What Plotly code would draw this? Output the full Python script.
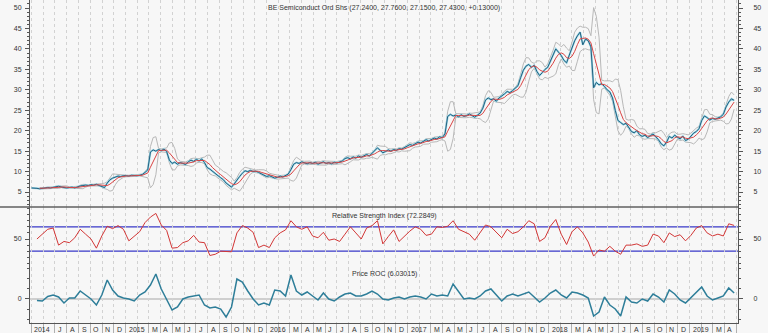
import pandas as pd
import plotly.graph_objects as go

# Weekly closing prices, first week of May 2014 to late April 2019
close = [
    6.0, 6.0, 5.9, 5.8, 5.9, 6.0, 6.1, 6.0, 6.2, 6.3,
    6.4, 6.2, 6.1, 6.0, 6.1, 6.2, 6.0, 6.3, 6.5, 6.6,
    6.7, 6.6, 6.8, 6.7, 6.9, 6.6, 6.4, 6.1, 7.2, 8.0,
    8.4, 8.7, 8.9, 8.8, 9.0, 9.0, 8.9, 9.1, 9.0, 9.0,
    9.1, 9.3, 9.8, 10.4, 14.8, 15.3, 15.0, 15.4, 15.1, 15.5,
    14.9, 12.8, 12.0, 12.3, 11.8, 12.2, 12.0, 11.7, 12.4, 12.8,
    12.5, 13.0, 12.6, 13.1, 12.2, 11.0, 10.6, 10.0, 9.5, 9.0,
    8.5, 8.0, 7.2, 6.8, 6.2, 7.0, 8.0, 8.8, 9.6, 10.2,
    10.0, 10.3, 10.0, 10.1, 9.8, 9.4, 9.2, 8.8, 9.0, 8.6,
    8.4, 8.6, 8.9, 8.7, 9.0, 9.4, 10.5, 11.8, 12.2, 12.0,
    12.4, 12.1, 11.9, 12.2, 12.0, 12.3, 11.8, 12.1, 12.4, 12.0,
    12.2, 11.9, 12.3, 12.1, 12.4, 12.6, 13.2, 13.4, 13.1, 13.6,
    13.3, 13.8, 13.5, 13.9, 14.2, 13.8, 14.4, 15.0, 15.8, 15.2,
    14.6, 14.9, 15.3, 15.0, 15.4, 15.2, 15.6, 15.5, 15.9, 16.3,
    16.6, 16.4, 16.9, 17.2, 17.0, 17.4, 17.8, 17.5, 17.9, 18.2,
    18.0, 18.5, 18.3, 19.2, 23.5, 24.0, 23.6, 23.8, 23.4, 23.9,
    23.5, 23.7, 24.1, 23.6, 23.3, 23.8, 24.3, 25.5, 27.5, 28.0,
    27.6, 27.8, 27.2, 28.0, 28.4, 29.0, 29.6, 29.3, 29.8, 30.3,
    31.0, 33.0, 34.8, 35.8, 36.2, 35.5, 36.0, 34.5, 33.5, 34.2,
    35.0, 35.5, 37.0, 38.5, 40.0, 39.2, 38.4, 37.2, 36.6, 38.5,
    40.5, 42.0, 43.2, 44.1, 41.0, 42.4, 42.0, 40.5, 30.5, 31.8,
    31.2, 31.5, 30.8, 30.0, 29.5, 28.0, 25.0, 22.5, 22.0, 21.5,
    21.8, 20.8, 19.8, 19.5, 20.0, 19.0, 18.6, 18.9, 18.3, 18.8,
    19.2, 18.5, 17.8, 16.8, 16.3, 17.2, 18.6, 18.2, 18.9, 18.4,
    18.0, 18.7, 17.6, 17.9, 18.8, 19.4, 19.8, 20.5, 22.5, 23.6,
    23.2, 22.6, 23.0, 22.8, 23.1, 23.4, 24.0, 25.8, 27.0, 27.8,
    27.43,
]

# Last bar: open, high, low, close and change on the day
last_bar = [27.24, 27.76, 27.15, 27.43]
last_change = 0.13

# Fortnightly oscillator readings
rsi = [
    None, 50, 58, 66, 68, 40, 46, 44, 52, 66,
    58, 50, 35, 55, 71, 67, 72, 66, 47, 55,
    62, 77, 86, 92, 73, 64, 35, 36, 44, 47,
    56, 45, 44, 23, 25, 30, 30, 29, 60, 72,
    68, 61, 36, 40, 36, 52, 60, 65, 80, 70,
    66, 70, 55, 52, 61, 48, 50, 46, 58, 70,
    60, 50, 68, 72, 80, 42, 54, 65, 46, 55,
    63, 70, 66, 56, 58, 70, 69, 71, 80, 66,
    62, 58, 48, 60, 73, 70, 61, 52, 66, 59,
    62, 70, 80, 75, 46, 52, 71, 82, 58, 41,
    62, 70, 60, 45, 22, 32, 30, 38, 30, 25,
    40, 40, 42, 38, 40, 58, 55, 44, 60, 54,
    57, 47, 56, 68, 72, 60, 55, 58, 55, 75,
    72.2849,
]
roc = [
    None, -1.5, -2, 2.5, 4, 2, -4, 1, 1, 8,
    4, 0, -6, 4, 19, 9, 3, 1, 0, -2,
    4, 7, 14, 25, 10, 0, -11, -8, 0, 2,
    3, 4, -6, -9, -8, -10, -18, -8, 20, 17,
    8, 0, -6, -4, -6, 9, 8, 3, 24, 8,
    4, 7, 3, -1, 6, 0, -2, 2, 5, 6,
    3, 3, 5, 8, 5, 0, -1, 1, 2, 0,
    2, 3, 2, 0, 5, 3, 4, 3, 15, 7,
    0, 1, 0, 3, 8, 10, 4, -2, 3, 5,
    3, 5, 7, 2, -3, 1, 6, 9, 4, 1,
    7, 6, 4, 1, -17, -13, 2, -6, -10, -17,
    2, -3, -4, 0, -2, 5, 2, -3, 9, 5,
    -1, -4, 1, 7, 12, 3, -1, 1, 3, 11,
    6.03015,
]

rsi_levels = [30, 70]
month_letters = "JFMAMJJASOND"

week_dates = pd.date_range("2014-05-02", periods=len(close), freq="7D")
osc_dates = pd.date_range("2014-05-02", periods=len(rsi), freq="14D")

# 20-day moving average with Bollinger envelope (4 weekly bars)
s = pd.Series(close, index=week_dates)
mid = s.rolling(4).mean()
dev = s.rolling(4).std()
upper = mid + 2 * dev
lower = mid - 2 * dev

FONT = "Liberation Sans, Arial, sans-serif"
TXT = "#333333"
BG = "#f7f7f7"
FS = 7

fig = go.Figure()
line_kw = dict(mode="lines", hoverinfo="skip", showlegend=False)
fig.add_trace(go.Scatter(x=week_dates, y=upper, line=dict(color="#b8b8b8", width=1), **line_kw))
fig.add_trace(go.Scatter(x=week_dates, y=lower, line=dict(color="#b8b8b8", width=1), **line_kw))
fig.add_trace(go.Scatter(x=week_dates, y=close, line=dict(color="#9ad6e6", width=2.0), **line_kw))
fig.add_trace(go.Scatter(x=week_dates, y=close, line=dict(color="#22607f", width=1.0), **line_kw))
fig.add_trace(go.Scatter(x=week_dates, y=mid, line=dict(color="#d94444", width=1), **line_kw))
fig.add_trace(go.Scatter(x=osc_dates, y=rsi, yaxis="y2", line=dict(color="#d23636", width=1), **line_kw))
fig.add_trace(go.Scatter(x=osc_dates, y=roc, yaxis="y3", line=dict(color="#2e7e99", width=1.5), **line_kw))

# Transparent copies so the right-hand scales are rendered
for axname, xs, ys in (("y4", week_dates, close), ("y5", osc_dates, rsi), ("y6", osc_dates, roc)):
    fig.add_trace(go.Scatter(x=xs, y=ys, yaxis=axname, opacity=0,
                             line=dict(width=0), **line_kw))

# Panel geometry (paper fractions of the plotting height)
main_dom = [0.3591, 1.0]
rsi_dom = [0.1703, 0.3591]
roc_dom = [0.0, 0.1703]
main_rng = [1.34, 51.96]
rsi_rng = [2.46, 102.5]
roc_rng = [-24, 31]

ax = dict(
    showline=True, linecolor="#555555", linewidth=1, ticks="outside",
    tickcolor="#555555", ticklen=4, tickfont=dict(size=FS, color=TXT, family=FONT),
    showgrid=False, zeroline=False, fixedrange=True, anchor="x",
)

def yax(domain, rng, tickvals, minor_vals, side, overlay=None):
    d = dict(ax, range=rng, tickmode="array", tickvals=tickvals, side=side,
             minor=dict(tickmode="array", tickvals=minor_vals, ticks="outside",
                        ticklen=2, tickcolor="#555555"))
    if overlay:
        d["overlaying"] = overlay
        d["ticklabelstandoff"] = 9
    else:
        d["domain"] = domain
        d["ticklabelstandoff"] = 2
    return d

main_ticks = list(range(5, 51, 5))
main_minor = [v for v in range(2, 52) if v % 5]
rsi_minor = [10, 20, 30, 40, 60, 70, 80, 90, 100]
roc_minor = [-20, -10, 10, 20, 30]

fig.update_layout(
    width=768, height=333,
    margin=dict(l=30, r=30, t=0, b=10),
    paper_bgcolor=BG, plot_bgcolor=BG,
    font=dict(family=FONT, size=FS, color=TXT),
    showlegend=False,
    xaxis=dict(
        domain=[0, 1], anchor="y3", type="date",
        range=["2014-04-28", "2019-05-06"],
        showgrid=True, gridcolor="#d2d2d2", griddash="3px,3px", gridwidth=1,
        tick0="2014-05-01", dtick="M1", ticks="outside", ticklen=10,
        tickcolor="#b0b0b0", showticklabels=False,
        showline=True, linecolor="#555555", zeroline=False, fixedrange=True,
    ),
    yaxis=yax(main_dom, main_rng, main_ticks, main_minor, "left"),
    yaxis4=yax(main_dom, main_rng, main_ticks, main_minor, "right", "y"),
    yaxis2=yax(rsi_dom, rsi_rng, [50], rsi_minor, "left"),
    yaxis5=yax(rsi_dom, rsi_rng, [50], rsi_minor, "right", "y2"),
    yaxis3=yax(roc_dom, roc_rng, [0], roc_minor, "left"),
    yaxis6=yax(roc_dom, roc_rng, [0], roc_minor, "right", "y3"),
)

# RSI reference levels and ROC zero line
for lv in rsi_levels:
    fig.add_shape(type="line", xref="paper", x0=0, x1=1, yref="y2", y0=lv, y1=lv,
                  line=dict(color="#3838c8", width=1.2), layer="below")
fig.add_shape(type="line", xref="paper", x0=0, x1=1, yref="y3", y0=0, y1=0,
              line=dict(color="#a8a8a8", width=1.2), layer="below")

# Separator between price panel and indicator panel
fig.add_shape(type="line", xref="paper", x0=-30 / 708, x1=1, yref="paper",
              y0=main_dom[0], y1=main_dom[0], line=dict(color="#606060", width=1.5))

# Panel captions
o, h, l, c = last_bar
fig.add_annotation(
    text=f"BE Semiconduct Ord Shs ({o:.4f}, {h:.4f}, {l:.4f}, {c:.4f}, {last_change:+.5f})",
    x=0.5, y=1.0, xref="paper", yref="paper", yanchor="top", yshift=-2,
    showarrow=False, font=dict(size=FS, color=TXT, family=FONT))
fig.add_annotation(
    text=f"Relative Strength Index ({rsi[-1]:.4f})",
    x=0.5, y=main_dom[0], xref="paper", yref="paper", yanchor="top", yshift=-3,
    showarrow=False, font=dict(size=FS, color=TXT, family=FONT))
fig.add_annotation(
    text=f"Price ROC ({roc[-1]:.5f})",
    x=0.5, y=rsi_dom[0], xref="paper", yref="paper", yanchor="top", yshift=-0,
    showarrow=False, font=dict(size=FS, color=TXT, family=FONT))

# Month labels along the time axis
months = pd.date_range("2014-05-01", "2019-04-01", freq="MS")
for i, d in enumerate(months):
    if i == 0 or d.month == 1:
        txt = str(d.year)
    elif i == 1 or d.month == 2:
        continue
    else:
        txt = month_letters[d.month - 1]
    fig.add_annotation(
        x=d, y=0, xref="x", yref="paper", text=txt, showarrow=False,
        xanchor="left", yanchor="top", xshift=1, yshift=-1,
        font=dict(size=FS, color=TXT, family=FONT))

fig.write_html("out.html", config={"displayModeBar": False})
